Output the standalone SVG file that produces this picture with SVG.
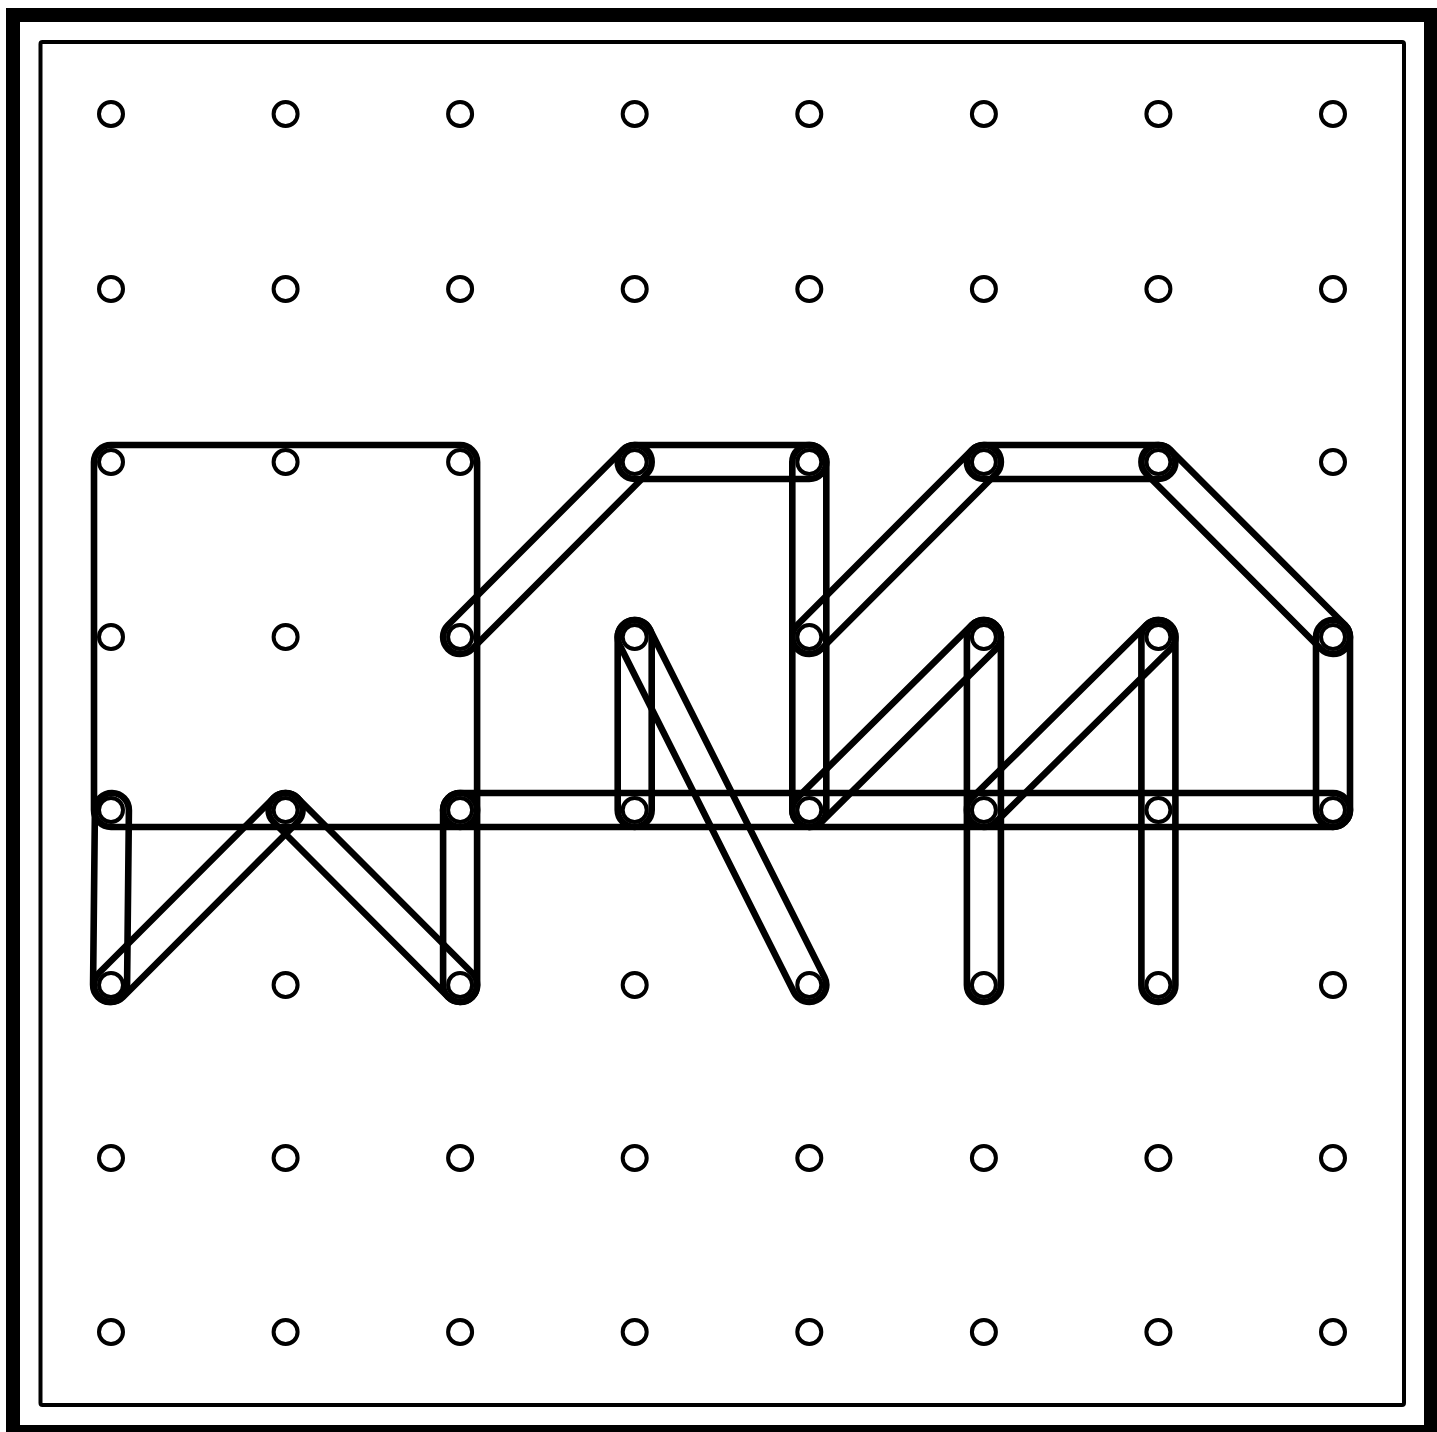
<svg xmlns="http://www.w3.org/2000/svg" width="1437" height="1432" viewBox="0 0 1437 1432">
<style>
.frame{fill:none;stroke:#000}
.band{fill:none;stroke:#000;stroke-width:6.6}
.peg{fill:#fff;stroke:#000;stroke-width:4}
</style>
<rect width="1437" height="1432" fill="#fff"/>
<g id="board">
<rect class="frame" x="13" y="15" width="1418" height="1417" stroke-width="14"/>
<rect class="frame" x="40.5" y="42" width="1363.5" height="1363" rx="2" stroke-width="4"/>
</g>
<g id="connectors">
<rect class="band" x="94" y="445" width="383.1" height="382" rx="17"/>
<rect class="band" x="94" y="793" width="34" height="209" rx="17" transform="rotate(0.6 111 897)"/>
<rect class="band" x="443.1" y="793" width="34" height="209" rx="17"/>
<rect class="band" x="792.3" y="445" width="34" height="382" rx="17"/>
<rect class="band" x="617.7" y="620" width="34" height="207" rx="17"/>
<rect class="band" x="1316" y="620" width="34" height="207" rx="17"/>
<rect class="band" x="966.9" y="620" width="34" height="382" rx="17"/>
<rect class="band" x="1141.4" y="620" width="34" height="382" rx="17"/>
<rect class="band" x="617.7" y="445" width="208.6" height="34" rx="17"/>
<rect class="band" x="966.9" y="445" width="208.5" height="34" rx="17"/>
<rect class="band" x="443.1" y="793" width="906.9" height="34" rx="17"/>
<rect class="band" x="-140.6" y="-17" width="281.2" height="34" rx="17" transform="translate(198.3 897.5) rotate(-45.07)"/>
<rect class="band" x="-140.6" y="-17" width="281.2" height="34" rx="17" transform="translate(372.85 897.5) rotate(45.08)"/>
<rect class="band" x="-140.6" y="-17" width="281.2" height="34" rx="17" transform="translate(547.4 549.5) rotate(-45.07)"/>
<rect class="band" x="-211.65" y="-17" width="423.3" height="34" rx="17" transform="translate(722 811) rotate(63.35)"/>
<rect class="band" x="-140.6" y="-17" width="281.2" height="34" rx="17" transform="translate(896.6 549.5) rotate(-45.07)"/>
<rect class="band" x="-140.6" y="-17" width="281.2" height="34" rx="17" transform="translate(1245.7 549.5) rotate(45.07)"/>
<rect class="band" x="-139.9" y="-17" width="279.8" height="34" rx="17" transform="translate(896.6 723.5) rotate(-44.74)"/>
<rect class="band" x="-139.9" y="-17" width="279.8" height="34" rx="17" transform="translate(1071.15 723.5) rotate(-44.75)"/>
</g>
<g id="pegs">
<g id="row1"><circle class="peg" cx="111" cy="114" r="12"/><circle class="peg" cx="285.6" cy="114" r="12"/><circle class="peg" cx="460.1" cy="114" r="12"/><circle class="peg" cx="634.7" cy="114" r="12"/><circle class="peg" cx="809.3" cy="114" r="12"/><circle class="peg" cx="983.9" cy="114" r="12"/><circle class="peg" cx="1158.4" cy="114" r="12"/><circle class="peg" cx="1333" cy="114" r="12"/></g>
<g id="row2"><circle class="peg" cx="111" cy="289" r="12"/><circle class="peg" cx="285.6" cy="289" r="12"/><circle class="peg" cx="460.1" cy="289" r="12"/><circle class="peg" cx="634.7" cy="289" r="12"/><circle class="peg" cx="809.3" cy="289" r="12"/><circle class="peg" cx="983.9" cy="289" r="12"/><circle class="peg" cx="1158.4" cy="289" r="12"/><circle class="peg" cx="1333" cy="289" r="12"/></g>
<g id="row3"><circle class="peg" cx="111" cy="462" r="12"/><circle class="peg" cx="285.6" cy="462" r="12"/><circle class="peg" cx="460.1" cy="462" r="12"/><circle class="peg" cx="634.7" cy="462" r="12"/><circle class="peg" cx="809.3" cy="462" r="12"/><circle class="peg" cx="983.9" cy="462" r="12"/><circle class="peg" cx="1158.4" cy="462" r="12"/><circle class="peg" cx="1333" cy="462" r="12"/></g>
<g id="row4"><circle class="peg" cx="111" cy="637" r="12"/><circle class="peg" cx="285.6" cy="637" r="12"/><circle class="peg" cx="460.1" cy="637" r="12"/><circle class="peg" cx="634.7" cy="637" r="12"/><circle class="peg" cx="809.3" cy="637" r="12"/><circle class="peg" cx="983.9" cy="637" r="12"/><circle class="peg" cx="1158.4" cy="637" r="12"/><circle class="peg" cx="1333" cy="637" r="12"/></g>
<g id="row5"><circle class="peg" cx="111" cy="810" r="12"/><circle class="peg" cx="285.6" cy="810" r="12"/><circle class="peg" cx="460.1" cy="810" r="12"/><circle class="peg" cx="634.7" cy="810" r="12"/><circle class="peg" cx="809.3" cy="810" r="12"/><circle class="peg" cx="983.9" cy="810" r="12"/><circle class="peg" cx="1158.4" cy="810" r="12"/><circle class="peg" cx="1333" cy="810" r="12"/></g>
<g id="row6"><circle class="peg" cx="111" cy="985" r="12"/><circle class="peg" cx="285.6" cy="985" r="12"/><circle class="peg" cx="460.1" cy="985" r="12"/><circle class="peg" cx="634.7" cy="985" r="12"/><circle class="peg" cx="809.3" cy="985" r="12"/><circle class="peg" cx="983.9" cy="985" r="12"/><circle class="peg" cx="1158.4" cy="985" r="12"/><circle class="peg" cx="1333" cy="985" r="12"/></g>
<g id="row7"><circle class="peg" cx="111" cy="1158" r="12"/><circle class="peg" cx="285.6" cy="1158" r="12"/><circle class="peg" cx="460.1" cy="1158" r="12"/><circle class="peg" cx="634.7" cy="1158" r="12"/><circle class="peg" cx="809.3" cy="1158" r="12"/><circle class="peg" cx="983.9" cy="1158" r="12"/><circle class="peg" cx="1158.4" cy="1158" r="12"/><circle class="peg" cx="1333" cy="1158" r="12"/></g>
<g id="row8"><circle class="peg" cx="111" cy="1332" r="12"/><circle class="peg" cx="285.6" cy="1332" r="12"/><circle class="peg" cx="460.1" cy="1332" r="12"/><circle class="peg" cx="634.7" cy="1332" r="12"/><circle class="peg" cx="809.3" cy="1332" r="12"/><circle class="peg" cx="983.9" cy="1332" r="12"/><circle class="peg" cx="1158.4" cy="1332" r="12"/><circle class="peg" cx="1333" cy="1332" r="12"/></g>
</g>
</svg>
